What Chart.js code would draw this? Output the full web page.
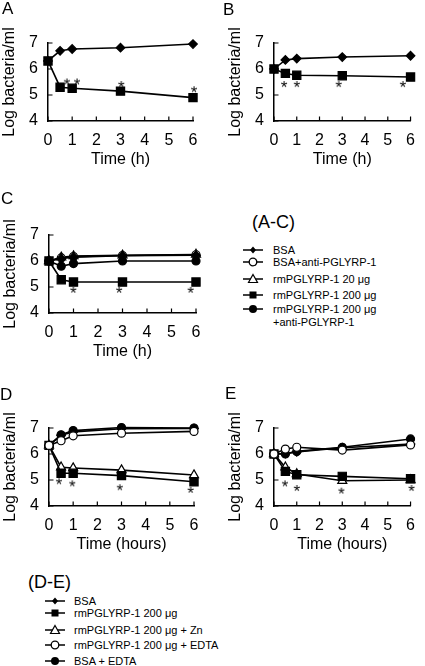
<!DOCTYPE html>
<html>
<head>
<meta charset="utf-8">
<script src="https://cdn.jsdelivr.net/npm/chart.js@4.4.1/dist/chart.umd.min.js"></script>
<style>
  body { margin: 0; background: #fff; }
  #wrap { position: relative; width: 425px; height: 666px; background: #fff; overflow: hidden;
          font-family: "Liberation Sans", Arial, sans-serif; color: #000; }
  canvas { position: absolute; }
  .lbl { position: absolute; font-size: 17px; line-height: 17px; }
  .ltitle { position: absolute; font-size: 18px; line-height: 18px; }
  .row { position: absolute; height: 12px; font-size: 11px; line-height: 12px; white-space: nowrap; }
  .row svg { position: absolute; left: 0; top: 0; }
  .row span { position: absolute; top: 0; }
</style>
</head>
<body>
<div id="wrap">
  <canvas id="cA" width="210" height="169" style="left:0;top:0"></canvas>
  <canvas id="cB" width="199" height="169" style="left:226px;top:0"></canvas>
  <canvas id="cC" width="210" height="169" style="left:1px;top:192px"></canvas>
  <canvas id="cD" width="210" height="169" style="left:1px;top:385px"></canvas>
  <canvas id="cE" width="199" height="169" style="left:226px;top:385px"></canvas>

  <div class="lbl" style="left:2px;top:0">A</div>
  <div class="lbl" style="left:223px;top:1px">B</div>
  <div class="lbl" style="left:1px;top:190px">C</div>
  <div class="lbl" style="left:0;top:386px">D</div>
  <div class="lbl" style="left:225px;top:385px">E</div>

  <div class="ltitle" style="left:252px;top:213px">(A-C)</div>
  <div class="ltitle" style="left:28px;top:573px">(D-E)</div>
</div>

<script>
// sampling times (h)
var times = [0, 0.5, 1, 3, 6];

// panel A
var aBsa   = [6.31, 6.70, 6.77, 6.82, 6.96];
var aRm200 = [6.31, 5.30, 5.26, 5.15, 4.90];
var aStarX = [0.78, 1.2, 3.03, 6.04];
var aStarY = [5.52, 5.52, 5.42, 5.22];

// panel B
var bBsa   = [6.00, 6.35, 6.40, 6.46, 6.51];
var bRm200 = [6.00, 5.83, 5.76, 5.74, 5.69];
var bStarX = [0.44, 1.0, 2.84, 5.66];
var bStarY = [5.42, 5.42, 5.42, 5.42];

// panel C
var cBsa       = [6.00, 6.10, 6.15, 6.20, 6.22];
var cBsaAnti   = [6.00, 6.12, 6.17, 6.21, 6.24];
var cRm20      = [6.00, 6.14, 6.19, 6.22, 6.25];
var cRm200     = [6.00, 5.28, 5.19, 5.19, 5.19];
var cRm200Anti = [6.00, 5.80, 5.90, 6.00, 6.00];
var cStarX = [0.99, 2.86, 5.78];
var cStarY = [4.89, 4.89, 4.89];

// panel D
var dBsa     = [6.33, 6.72, 6.85, 6.97, 6.98];
var dRm200   = [6.33, 5.26, 5.26, 5.17, 4.93];
var dZn      = [6.33, 5.49, 5.46, 5.38, 5.19];
var dEdta    = [6.33, 6.51, 6.70, 6.80, 6.87];
var dBsaEdta = [6.33, 6.74, 6.90, 7.02, 7.00];
var dStarX = [0.41, 0.96, 2.93, 5.86];
var dStarY = [4.95, 4.87, 4.72, 4.62];

// panel E
var eBsa     = [6.00, 6.02, 6.08, 6.24, 6.38];
var eRm200   = [6.00, 5.33, 5.20, 5.14, 5.05];
var eZn      = [6.00, 5.49, 5.23, 4.97, 5.00];
var eEdta    = [6.00, 6.19, 6.26, 6.15, 6.35];
var eBsaEdta = [6.00, 6.00, 6.10, 6.26, 6.58];
var eStarX = [0.48, 1.0, 2.96, 6.04];
var eStarY = [4.87, 4.69, 4.59, 4.69];

// legend texts
var legendAC = ['BSA', 'BSA+anti-PGLYRP-1', 'rmPGLYRP-1 20 \u03bcg', 'rmPGLYRP-1 200 \u03bcg', 'rmPGLYRP-1 200 \u03bcg', '+anti-PGLYRP-1'];
var legendDE = ['BSA', 'rmPGLYRP-1 200 \u03bcg', 'rmPGLYRP-1 200 \u03bcg + Zn', 'rmPGLYRP-1 200 \u03bcg + EDTA', 'BSA + EDTA'];

var FONT = '"Liberation Sans", Arial, sans-serif';
Chart.defaults.font.family = FONT;
Chart.defaults.color = '#000';

// asterisk used as point image
var star = document.createElement('canvas');
star.width = 16; star.height = 16;
(function () {
  var g = star.getContext('2d');
  g.fillStyle = '#000';
  g.font = '17px ' + FONT;
  g.textAlign = 'center';
  g.fillText('*', 8, 16.5);
})();

var marks = {
  diamond:  { pointStyle: 'rectRot',  pointRadius: 4.3, pointBackgroundColor: '#000' },
  square:   { pointStyle: 'rect',     pointRadius: 5.8, pointBackgroundColor: '#000' },
  triangle: { pointStyle: 'triangle', pointRadius: 5.2, pointBackgroundColor: '#fff' },
  ocircle:  { pointStyle: 'circle',   pointRadius: 4,   pointBackgroundColor: '#fff' },
  fcircle:  { pointStyle: 'circle',   pointRadius: 4,   pointBackgroundColor: '#000' }
};

function series(ys, mark) {
  var ds = {
    data: times.map(function (t, i) { return { x: t, y: ys[i] }; }),
    showLine: true,
    borderColor: '#000',
    borderWidth: 1.6,
    pointBorderColor: '#000',
    pointBorderWidth: 1.2,
    clip: false
  };
  return Object.assign(ds, marks[mark]);
}

function stars(xs, ys) {
  return {
    data: xs.map(function (x, i) { return { x: x, y: ys[i] }; }),
    showLine: false,
    pointStyle: star,
    pointRadius: 8,
    clip: false
  };
}

// small ticks pointing into the plot
var innerTicks = {
  id: 'innerTicks',
  beforeDatasetsDraw: function (chart) {
    var ctx = chart.ctx, x = chart.scales.x, y = chart.scales.y;
    var a = chart.chartArea;
    ctx.save();
    ctx.strokeStyle = '#000';
    ctx.lineWidth = 1.2;
    ctx.beginPath();
    x.ticks.forEach(function (t) {
      var px = x.getPixelForValue(t.value);
      ctx.moveTo(px, a.bottom);
      ctx.lineTo(px, a.bottom - 4.5);
    });
    y.ticks.forEach(function (t) {
      var py = y.getPixelForValue(t.value);
      ctx.moveTo(a.left, py);
      ctx.lineTo(a.left + 4.5, py);
    });
    ctx.stroke();
    ctx.restore();
  }
};

function panel(id, datasets, xTitle, padRight) {
  return new Chart(document.getElementById(id), {
    type: 'scatter',
    data: { datasets: datasets },
    options: {
      responsive: false,
      animation: false,
      events: [],
      layout: { padding: { left: 0, top: 43, right: padRight, bottom: 0 } },
      plugins: { legend: { display: false }, tooltip: { enabled: false } },
      scales: {
        x: {
          type: 'linear', min: 0, max: 6,
          ticks: { stepSize: 1, padding: 10, font: { size: 16 }, color: '#000' },
          grid: { display: false, drawTicks: false },
          border: { color: '#000', width: 1.5 },
          title: { display: true, text: xTitle, padding: 0, font: { size: 16 }, color: '#000' },
          afterFit: function (s) { s.height = 48; }
        },
        y: {
          type: 'linear', min: 4, max: 7,
          ticks: { stepSize: 1, padding: 10, font: { size: 16 }, color: '#000' },
          grid: { display: false, drawTicks: false },
          border: { color: '#000', width: 1.5 },
          title: { display: true, text: 'Log bacteria/ml', padding: 0, font: { size: 16 }, color: '#000' },
          afterFit: function (s) { s.width = 48; }
        }
      }
    },
    plugins: [innerTicks]
  });
}

panel('cA', [series(aBsa, 'diamond'), series(aRm200, 'square'), stars(aStarX, aStarY)], 'Time (h)', 17);
panel('cB', [series(bBsa, 'diamond'), series(bRm200, 'square'), stars(bStarX, bStarY)], 'Time (h)', 6);
panel('cC', [series(cBsa, 'diamond'), series(cRm200Anti, 'fcircle'), series(cBsaAnti, 'ocircle'),
             series(cRm20, 'triangle'), series(cRm200, 'square'), stars(cStarX, cStarY)], 'Time (h)', 15);
panel('cD', [series(dEdta, 'ocircle'), series(dBsa, 'diamond'), series(dBsaEdta, 'fcircle'),
             series(dRm200, 'square'), series(dZn, 'triangle'), stars(dStarX, dStarY)], 'Time (hours)', 17);
panel('cE', [series(eEdta, 'ocircle'), series(eBsa, 'diamond'), series(eBsaEdta, 'fcircle'),
             series(eRm200, 'square'), series(eZn, 'triangle'), stars(eStarX, eStarY)], 'Time (hours)', 5);

// legend rows (html)
var glyph = {
  diamond:  '<polygon points="10,2.5 13,6 10,9.5 7,6" fill="#000"/>',
  square:   '<rect x="6.5" y="2.5" width="7" height="7" fill="#000"/>',
  triangle: '<polygon points="10,1.5 14.5,9.5 5.5,9.5" fill="#fff" stroke="#000" stroke-width="1.2"/>',
  ocircle:  '<circle cx="10" cy="6" r="3.8" fill="#fff" stroke="#000" stroke-width="1.3"/>',
  fcircle:  '<circle cx="10" cy="6" r="4" fill="#000"/>'
};
function legendRow(x0, textX, cy, text, mark) {
  var d = document.createElement('div');
  d.className = 'row';
  d.style.left = x0 + 'px';
  d.style.top = (cy - 6) + 'px';
  var svg = mark ? '<svg width="22" height="12"><line x1="0" y1="6" x2="20" y2="6" stroke="#000" stroke-width="1.5"/>' + glyph[mark] + '</svg>' : '';
  d.innerHTML = svg + '<span style="left:' + (textX - x0) + 'px">' + text + '</span>';
  document.getElementById('wrap').appendChild(d);
}
var acMarks = ['diamond', 'ocircle', 'triangle', 'square', 'fcircle', null];
var acY = [250, 262, 278.5, 295, 309, 321.5];
legendAC.forEach(function (t, i) { legendRow(243, 273, acY[i], t, acMarks[i]); });

var deMarks = ['diamond', 'square', 'triangle', 'ocircle', 'fcircle'];
var deY = [601, 613, 629.5, 644.5, 660.5];
legendDE.forEach(function (t, i) { legendRow(45, 74, deY[i], t, deMarks[i]); });
</script>
</body>
</html>
